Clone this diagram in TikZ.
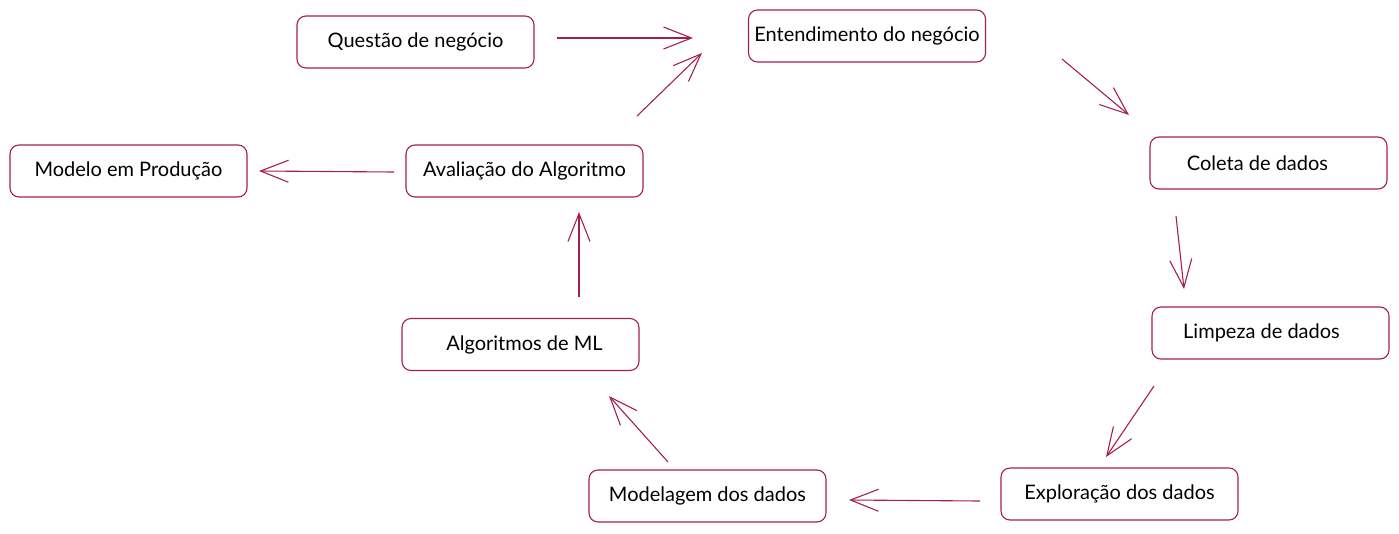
\documentclass[tikz,border=0pt]{standalone}
\usepackage{fontspec}
\setmainfont{Lato}
\usetikzlibrary{arrows.meta}
\definecolor{crim}{HTML}{A61E4D}
\begin{document}
\begin{tikzpicture}[x=1pt,y=-1pt,
  stepbox/.style={draw=crim,line width=1.1pt,rounded corners=9pt,minimum width=237pt,minimum height=52pt,inner sep=0pt,font=\fontsize{20}{22}\selectfont,text=black},
  flow/.style={draw=crim,line width=1.1pt,-{Straight Barb[length=28pt,width=22pt,line width=1.1pt]}}]
\useasboundingbox (0,0) rectangle (1399,533);
\node[stepbox] (q) at (415.5,42) {Questão de negócio};
\node[stepbox] (e) at (867,36) {Entendimento do negócio};
\node[stepbox] (c) at (1268.5,163) {\hspace*{-22pt}Coleta de dados};
\node[stepbox] (l) at (1270.5,333) {\hspace*{-18pt}Limpeza de dados};
\node[stepbox] (x) at (1119.5,494) {Exploração dos dados};
\node[stepbox] (m) at (707.5,496) {Modelagem dos dados};
\node[stepbox] (a) at (520.5,344.5) {\hspace*{8pt}Algoritmos de ML};
\node[stepbox] (v) at (524.5,171) {Avaliação do Algoritmo};
\node[stepbox] (p) at (128.5,171) {Modelo em Produção};
% arrow end points
\coordinate (q1) at (557,38); \coordinate (q2) at (693,38);
\coordinate (v1) at (637,116); \coordinate (v2) at (702,53);
\coordinate (e1) at (1062,59); \coordinate (e2) at (1129,115);
\coordinate (c1) at (1176,216); \coordinate (c2) at (1184,289);
\coordinate (l1) at (1154,386); \coordinate (l2) at (1106,457);
\coordinate (x1) at (980,501); \coordinate (x2) at (849,500);
\coordinate (m1) at (668,462); \coordinate (m2) at (609,396);
\coordinate (a1) at (579,297); \coordinate (a2) at (579,212);
\coordinate (p1) at (394,172); \coordinate (p2) at (259,171);
\draw[flow] (q1) -- (q2);
\draw[flow] (v1) -- (v2);
\draw[flow] (e1) -- (e2);
\draw[flow] (c1) -- (c2);
\draw[flow] (l1) -- (l2);
\draw[flow] (x1) -- (x2);
\draw[flow] (m1) -- (m2);
\draw[flow] (a1) -- (a2);
\draw[flow] (p1) -- (p2);
\end{tikzpicture}
\end{document}
